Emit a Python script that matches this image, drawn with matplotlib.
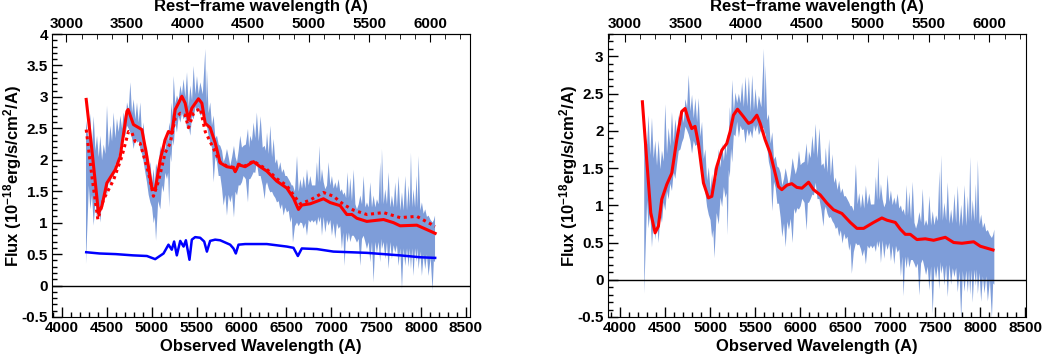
import numpy as np
import matplotlib.pyplot as plt
from matplotlib.ticker import MultipleLocator, FixedLocator, FuncFormatter

plt.rcParams['font.family'] = ['Liberation Sans', 'DejaVu Sans']
plt.rcParams['font.weight'] = 'bold'
plt.rcParams['mathtext.fontset'] = 'custom'
plt.rcParams['mathtext.rm'] = 'Liberation Sans:bold'
plt.rcParams['mathtext.default'] = 'rm'

z = 0.35

# observed spectrum: spike tips (lower / upper edge), left panel units
band_wl = [4263, 4280, 4311, 4349, 4386, 4423, 4460, 4497, 4534, 4571,
           4608, 4646, 4683, 4720, 4757, 4794, 4831, 4868, 4905, 4942,
           4980, 5017, 5043, 5091, 5128, 5165, 5190, 5213, 5240, 5276,
           5314, 5350, 5388, 5425, 5462, 5499, 5536, 5592, 5610, 5647,
           5685, 5722, 5759, 5796, 5833, 5870, 5911, 5945, 5981, 6018,
           6067, 6092, 6130, 6166, 6208, 6253, 6279, 6316, 6353, 6390,
           6427, 6464, 6501, 6539, 6568, 6613, 6650, 6687, 6724, 6761,
           6798, 6835, 6862, 6891, 6928, 6965, 7002, 7039, 7076, 7113,
           7143, 7176, 7206, 7244, 7281, 7318, 7355, 7392, 7429, 7466,
           7503, 7540, 7559, 7596, 7633, 7670, 7707, 7744, 7782, 7819,
           7856, 7882, 7910, 7945, 7967, 8004, 8041, 8078, 8123, 8150]
band_hi = [2.63, 2.45, 2.74, 2.70, 2.39, 2.39, 2.25, 2.87, 2.55, 2.76,
           2.66, 2.71, 2.76, 2.92, 3.24, 2.97, 2.92, 2.92, 2.60, 2.23,
           1.97, 1.86, 1.95, 2.23, 2.34, 2.44, 2.60, 2.92, 3.34, 3.03,
           3.19, 3.29, 3.40, 3.19, 3.50, 3.34, 3.24, 3.77, 3.45, 2.92,
           2.71, 2.39, 2.23, 1.97, 2.18, 1.91, 2.23, 1.97, 2.39, 2.23,
           2.50, 2.39, 2.60, 2.76, 2.70, 2.23, 2.44, 2.55, 2.34, 2.02,
           1.97, 1.86, 1.75, 1.65, 1.60, 2.07, 1.70, 1.75, 1.86, 1.75,
           1.60, 1.97, 2.23, 1.86, 1.54, 1.97, 1.75, 1.65, 1.70, 1.54,
           1.49, 1.81, 1.72, 1.85, 1.22, 1.44, 1.75, 1.33, 1.65, 1.44,
           1.38, 1.97, 2.18, 1.54, 1.81, 1.44, 1.65, 1.75, 1.49, 1.75,
           1.60, 2.12, 1.54, 1.75, 2.07, 1.33, 1.22, 1.12, 1.01, 1.12]
band_lo = [0.35, 1.00, 1.22, 0.96, 1.06, 1.01, 1.28, 1.44, 1.59, 1.70,
           1.86, 2.23, 2.34, 2.55, 2.44, 2.18, 2.28, 2.18, 1.97, 1.65,
           1.33, 1.00, 0.72, 1.22, 1.49, 1.70, 1.25, 1.97, 2.23, 2.44,
           2.60, 2.65, 2.50, 2.39, 2.65, 2.76, 2.71, 2.71, 2.55, 2.28,
           1.65, 1.97, 1.75, 1.28, 1.12, 1.33, 1.09, 1.44, 1.60, 1.75,
           1.33, 1.70, 1.81, 1.97, 1.75, 1.38, 1.65, 1.49, 1.44, 1.33,
           1.22, 1.12, 1.17, 1.01, 0.69, 1.01, 1.01, 0.91, 0.80, 1.01,
           1.01, 0.96, 1.01, 0.80, 0.85, 0.96, 0.80, 0.75, 0.91, 0.59,
           0.32, 0.69, 0.70, 0.80, 0.69, 0.32, 0.80, 0.59, 0.38, 0.06,
           0.53, 0.38, 0.59, 0.43, 0.27, 0.43, 0.53, 0.32, -0.05, 0.32,
           0.30, 0.27, 0.16, 0.38, 0.27, 0.16, 0.27, 0.16, -0.07, 0.38]

# observed spectrum: dense body between the spikes
core_wl = [4295, 4330, 4368, 4405, 4442, 4479, 4516, 4553, 4590, 4627,
           4665, 4702, 4739, 4776, 4813, 4850, 4887, 4924, 4961, 4999,
           5030, 5067, 5110, 5147, 5178, 5202, 5227, 5258, 5295, 5332,
           5369, 5407, 5444, 5481, 5518, 5564, 5601, 5628, 5666, 5704,
           5741, 5778, 5815, 5852, 5890, 5928, 5963, 6000, 6043, 6080,
           6111, 6148, 6187, 6231, 6266, 6298, 6335, 6372, 6409, 6446,
           6483, 6520, 6554, 6590, 6632, 6669, 6706, 6743, 6780, 6817,
           6849, 6877, 6910, 6947, 6984, 7021, 7058, 7095, 7128, 7160,
           7191, 7225, 7263, 7300, 7337, 7374, 7411, 7448, 7485, 7522,
           7550, 7578, 7615, 7652, 7689, 7726, 7763, 7800, 7838, 7869,
           7896, 7928, 7956, 7986, 8023, 8060, 8101, 8137]
core_hi = [2.35, 2.20, 2.15, 2.05, 2.00, 2.10, 2.20, 2.30, 2.35, 2.45,
           2.50, 2.60, 2.80, 2.75, 2.65, 2.60, 2.40, 2.10, 1.80, 1.65,
           1.60, 1.80, 2.00, 2.15, 2.30, 2.50, 2.70, 2.90, 2.95, 3.05,
           3.00, 2.85, 2.95, 3.05, 3.05, 3.05, 2.90, 2.75, 2.55, 2.35,
           2.25, 2.15, 2.05, 2.05, 2.05, 2.05, 2.15, 2.20, 2.25, 2.20,
           2.30, 2.35, 2.30, 2.20, 2.15, 2.10, 2.05, 1.95, 1.85, 1.80,
           1.75, 1.70, 1.60, 1.50, 1.50, 1.55, 1.55, 1.60, 1.60, 1.60,
           1.65, 1.65, 1.65, 1.60, 1.60, 1.55, 1.55, 1.50, 1.45, 1.40,
           1.40, 1.35, 1.30, 1.30, 1.30, 1.25, 1.25, 1.25, 1.25, 1.30,
           1.30, 1.30, 1.30, 1.25, 1.25, 1.25, 1.20, 1.20, 1.20, 1.25,
           1.25, 1.25, 1.25, 1.20, 1.15, 1.10, 1.05, 1.05]
core_lo = [1.60, 1.45, 1.35, 1.30, 1.40, 1.55, 1.70, 1.80, 1.95, 2.05,
           2.25, 2.40, 2.50, 2.35, 2.35, 2.30, 2.10, 1.80, 1.45, 1.25,
           1.10, 1.35, 1.60, 1.80, 1.80, 2.10, 2.35, 2.60, 2.70, 2.75,
           2.70, 2.55, 2.70, 2.85, 2.85, 2.75, 2.55, 2.40, 2.20, 2.05,
           1.75, 1.55, 1.45, 1.45, 1.45, 1.50, 1.60, 1.65, 1.70, 1.70,
           1.75, 1.80, 1.75, 1.60, 1.60, 1.55, 1.50, 1.40, 1.35, 1.30,
           1.25, 1.20, 1.10, 0.95, 0.95, 1.00, 1.00, 1.05, 1.05, 1.05,
           1.10, 1.10, 1.10, 1.05, 1.05, 1.00, 1.00, 0.95, 0.85, 0.85,
           0.85, 0.80, 0.75, 0.75, 0.75, 0.70, 0.70, 0.70, 0.70, 0.70,
           0.75, 0.70, 0.70, 0.70, 0.65, 0.65, 0.60, 0.60, 0.60, 0.60,
           0.60, 0.60, 0.60, 0.55, 0.50, 0.50, 0.45, 0.40]

# host galaxy template (blue)
host_wl = [4271, 4420, 4600, 4792, 4947, 5039, 5132, 5187, 5224, 5250,
           5280, 5318, 5355, 5381, 5421, 5447, 5484, 5540, 5585, 5615,
           5651, 5707, 5763, 5874, 5911, 5937, 5967, 6041, 6282, 6505,
           6579, 6628, 6672, 6840, 7024, 7396, 7767, 7990, 8157]
host_f = [0.53, 0.51, 0.50, 0.48, 0.47, 0.42, 0.51, 0.65, 0.57, 0.70,
          0.48, 0.71, 0.62, 0.72, 0.41, 0.73, 0.77, 0.76, 0.70, 0.54,
          0.71, 0.73, 0.72, 0.65, 0.59, 0.51, 0.65, 0.66, 0.66, 0.62,
          0.60, 0.47, 0.59, 0.58, 0.54, 0.52, 0.48, 0.45, 0.44]

# best fit, host + SN (solid red)
fit_wl = [4271, 4334, 4408, 4445, 4501, 4594, 4649, 4724, 4738, 4797,
          4891, 4947, 5002, 5039, 5095, 5150, 5187, 5224, 5262, 5299,
          5336, 5373, 5410, 5447, 5521, 5559, 5596, 5651, 5707, 5763,
          5837, 5911, 5930, 5967, 6041, 6133, 6208, 6282, 6393, 6505,
          6579, 6635, 6672, 6765, 6840, 6913, 6987, 7099, 7173, 7229,
          7285, 7396, 7582, 7693, 7767, 7953, 8064, 8157]
fit_f = [2.96, 2.16, 1.15, 1.26, 1.63, 1.84, 2.05, 2.77, 2.80, 2.56,
         2.48, 2.05, 1.55, 1.52, 2.00, 2.32, 2.45, 2.42, 2.80, 2.90,
         3.01, 2.90, 2.64, 2.82, 2.97, 2.90, 2.58, 2.51, 2.27, 1.95,
         1.89, 1.87, 1.81, 1.92, 1.89, 1.97, 1.89, 1.82, 1.66, 1.55,
         1.39, 1.21, 1.28, 1.30, 1.34, 1.38, 1.32, 1.27, 1.13, 1.13,
         1.07, 1.02, 1.05, 1.00, 0.95, 0.96, 0.89, 0.83]

# alternative fit (dotted red)
alt_wl = [4271, 4334, 4401, 4464, 4576, 4668, 4742, 4780, 4817, 4872,
          4965, 5020, 5076, 5150, 5206, 5262, 5318, 5373, 5410, 5466,
          5540, 5596, 5688, 5763, 5837, 5911, 5930, 5967, 6041, 6133,
          6208, 6282, 6393, 6505, 6579, 6654, 6765, 6913, 7024, 7136,
          7247, 7396, 7582, 7767, 7953, 8157]
alt_f = [2.48, 1.74, 1.05, 1.37, 1.68, 2.05, 2.45, 2.43, 2.29, 2.26,
         1.79, 1.42, 1.66, 2.11, 2.26, 2.66, 2.74, 2.71, 2.51, 2.74,
         2.82, 2.45, 2.18, 1.96, 1.90, 1.88, 1.82, 1.93, 1.90, 1.98,
         1.91, 1.85, 1.70, 1.59, 1.44, 1.30, 1.36, 1.48, 1.42, 1.29,
         1.20, 1.13, 1.16, 1.08, 1.10, 0.94]

# SN template after host subtraction (right panel)
sn_wl = [4248, 4296, 4341, 4389, 4426, 4463, 4519, 4574, 4630, 4685,
         4722, 4759, 4796, 4833, 4870, 4926, 4981, 5019, 5074, 5130,
         5185, 5222, 5259, 5304, 5370, 5426, 5463, 5519, 5556, 5611,
         5667, 5722, 5759, 5796, 5852, 5907, 5963, 6019, 6093, 6148,
         6222, 6296, 6370, 6463, 6556, 6630, 6704, 6815, 6907, 6963,
         7056, 7111, 7167, 7222, 7296, 7389, 7481, 7611, 7704, 7796,
         7926, 8000, 8141]
sn_f = [2.39, 1.61, 0.90, 0.63, 0.72, 1.08, 1.28, 1.43, 1.88, 2.26,
        2.30, 2.15, 2.03, 2.06, 1.83, 1.30, 1.10, 1.12, 1.52, 1.74,
        1.83, 1.99, 2.21, 2.29, 2.19, 2.10, 2.12, 2.21, 2.10, 1.88,
        1.70, 1.43, 1.25, 1.21, 1.27, 1.29, 1.24, 1.23, 1.31, 1.21,
        1.14, 1.03, 0.94, 0.89, 0.77, 0.69, 0.69, 0.77, 0.83, 0.80,
        0.77, 0.68, 0.61, 0.61, 0.54, 0.55, 0.53, 0.57, 0.50, 0.49,
        0.51, 0.45, 0.40]

rest_ticks = [3000, 3500, 4000, 4500, 5000, 5500, 6000]
band_color = '#7e9dd9'
fs_tick = 11
fs_title = 12


def style_axes(ax, xlim, ylim):
    ax.set_xlim(*xlim)
    ax.set_ylim(*ylim)
    ax.axhline(0, color='black', lw=1)
    ax.xaxis.set_major_locator(MultipleLocator(500))
    ax.xaxis.set_minor_locator(MultipleLocator(100))
    ax.yaxis.set_major_locator(MultipleLocator(0.5))
    ax.yaxis.set_minor_locator(MultipleLocator(0.1))
    ax.yaxis.set_major_formatter(FuncFormatter(lambda v, p: '%g' % v))
    ax.tick_params(which='both', direction='in', top=False, right=False,
                   labelsize=fs_tick, pad=3)
    ax.tick_params(which='major', length=7, width=1)
    ax.tick_params(which='minor', length=3.5, width=1)
    # rest-frame axis on top, only ticks inside the visible range
    sec = ax.secondary_xaxis('top', functions=(lambda x: x / (1 + z),
                                               lambda x: x * (1 + z)))
    lo_r, hi_r = xlim[0] / (1 + z), xlim[1] / (1 + z)
    minors = [t for t in np.arange(2875, 6500, 125) if lo_r < t < hi_r]
    sec.xaxis.set_major_locator(FixedLocator(rest_ticks))
    sec.xaxis.set_minor_locator(FixedLocator(minors))
    sec.tick_params(which='both', direction='in', labelsize=fs_tick, pad=2)
    sec.tick_params(which='major', length=6)
    sec.tick_params(which='minor', length=3.5)
    ax.text(0.5, 1.08, 'Rest\u2212frame wavelength (A)', transform=ax.transAxes,
            ha='center', va='baseline', fontsize=fs_title, fontweight='bold')
    ax.text(0.5, -0.12, 'Observed Wavelength (A)', transform=ax.transAxes,
            ha='center', va='baseline', fontsize=fs_title, fontweight='bold')
    ax.text(-0.094, 0.5, r'Flux (10$^{-18}$erg/s/cm$^{2}$/A)', transform=ax.transAxes,
            rotation=90, ha='center', va='center', fontsize=fs_title, fontweight='bold')


# spike tips and body points merged into one jagged band
wl_all = np.concatenate([band_wl, core_wl])
order = np.argsort(wl_all)
wl_all = wl_all[order]
hi_all = np.concatenate([band_hi, core_hi])[order]
lo_all = np.concatenate([band_lo, core_lo])[order]

fig = plt.figure(figsize=(10.43, 3.54), dpi=100)
ax1 = fig.add_axes([52 / 1043, 1 - 317 / 354, 418 / 1043, 283 / 354])
ax2 = fig.add_axes([607.7 / 1043, 1 - 317 / 354, 418.3 / 1043, 283 / 354])

# left panel: observed spectrum with host + SN fits
ax1.fill_between(wl_all, lo_all, hi_all, color=band_color, lw=0)
ax1.plot(host_wl, host_f, color='blue', lw=1.8)
ax1.plot(alt_wl, alt_f, color='red', lw=2.2, ls=(0, (1, 1.2)))
ax1.plot(fit_wl, fit_f, color='red', lw=2.2)
style_axes(ax1, (3890, 8545), (-0.5, 4))

# right panel: host-subtracted spectrum
host_at_band = np.interp(wl_all, host_wl, host_f)
ax2.fill_between(wl_all, lo_all - host_at_band, hi_all - host_at_band,
                 color=band_color, lw=0)
ax2.plot(sn_wl, sn_f, color='red', lw=2.2)
style_axes(ax2, (3863, 8507), (-0.5, 3.3))

fig.savefig('out.png', dpi=100)
